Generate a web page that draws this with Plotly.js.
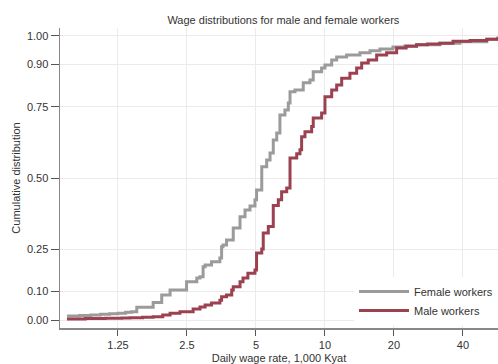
<!DOCTYPE html>
<html>
<head>
<meta charset="utf-8">
<script src="https://cdn.plot.ly/plotly-3.0.1.min.js"></script>
<style>html,body{margin:0;padding:0;background:#fff;}#chart{width:498px;height:364px;}</style>
</head>
<body>
<div id="chart"></div>
<script>
// Female workers: daily wage (1,000 Kyat) and cumulative share
var femaleWage = [0.749, 0.85, 0.95, 1.05, 1.15, 1.25, 1.35, 1.435, 1.51, 1.78, 1.94, 2.11, 2.49, 2.76, 2.85, 2.94, 3.00, 3.20, 3.48, 3.54, 3.59, 3.72, 3.98, 4.26, 4.48, 4.71, 4.95, 5.03, 5.30, 5.57, 5.76, 5.95, 6.16, 6.36, 6.69, 6.92, 7.04, 7.40, 8.04, 8.60, 8.89, 9.67, 10.0, 10.70, 11.25, 12.43, 14.21, 15.72, 17.38, 19.80, 22.3, 25.1, 31.7, 38.8, 50.8, 56.9, 60];
var femaleCdf  = [0.014, 0.016, 0.018, 0.020, 0.022, 0.024, 0.027, 0.029, 0.045, 0.062, 0.088, 0.106, 0.135, 0.148, 0.152, 0.188, 0.194, 0.205, 0.218, 0.258, 0.264, 0.282, 0.324, 0.364, 0.387, 0.401, 0.423, 0.458, 0.540, 0.563, 0.588, 0.634, 0.658, 0.722, 0.739, 0.764, 0.804, 0.810, 0.835, 0.845, 0.874, 0.887, 0.898, 0.915, 0.926, 0.933, 0.941, 0.948, 0.954, 0.961, 0.965, 0.969, 0.974, 0.980, 0.988, 0.992, 0.993];

// Male workers
var maleWage = [0.749, 0.9, 1.1, 1.3, 1.41, 1.6, 1.78, 1.96, 2.11, 2.33, 2.66, 2.85, 3.00, 3.20, 3.48, 3.54, 3.72, 3.92, 3.98, 4.26, 4.39, 4.61, 4.95, 5.03, 5.30, 5.38, 5.66, 5.95, 6.26, 6.47, 6.81, 7.04, 7.53, 7.78, 7.91, 8.18, 8.75, 8.89, 9.67, 10.0, 10.70, 11.25, 11.83, 12.85, 13.75, 14.46, 15.45, 16.81, 18.58, 20.55, 22.6, 25.1, 28.0, 31.7, 36.2, 43.0, 50.8, 56.9, 60];
var maleCdf  = [0.004, 0.005, 0.006, 0.007, 0.008, 0.010, 0.012, 0.018, 0.024, 0.029, 0.039, 0.046, 0.053, 0.060, 0.070, 0.082, 0.088, 0.106, 0.117, 0.135, 0.148, 0.165, 0.176, 0.236, 0.250, 0.306, 0.329, 0.403, 0.423, 0.452, 0.465, 0.570, 0.585, 0.599, 0.645, 0.663, 0.681, 0.711, 0.729, 0.786, 0.810, 0.827, 0.851, 0.869, 0.887, 0.905, 0.915, 0.933, 0.941, 0.958, 0.964, 0.969, 0.972, 0.974, 0.981, 0.984, 0.988, 0.992, 0.993];

var xTicks = [1.25, 2.5, 5, 10, 20, 40];
var xTickText = ["1.25", "2.5", "5", "10", "20", "40"];
var yTicks = [0, 0.10, 0.25, 0.50, 0.75, 0.90, 1.00];
var yTickText = ["0.00", "0.10", "0.25", "0.50", "0.75", "0.90", "1.00"];

var FONT = "Liberation Sans, Arial, Helvetica, sans-serif";

var traces = [
  {x: femaleWage, y: femaleCdf, type: "scatter", mode: "lines", name: "Female workers",
   line: {shape: "hv", color: "#9b9b9b", width: 3}},
  {x: maleWage, y: maleCdf, type: "scatter", mode: "lines", name: "Male workers",
   line: {shape: "hv", color: "#9c4150", width: 3}}
];

var layout = {
  width: 498, height: 364,
  margin: {l: 60, r: 0, t: 28, b: 36},
  paper_bgcolor: "#fff", plot_bgcolor: "#fff",
  font: {family: FONT, size: 11, color: "#333"},
  title: {text: "Wage distributions for male and female workers", font: {size: 11, color: "#333"},
          xref: "container", x: 0.569, xanchor: "center", yref: "container", y: 0.945, yanchor: "middle"},
  xaxis: {type: "log", range: [-0.156, 1.755], tickvals: xTicks, ticktext: xTickText,
          ticks: "outside", ticklen: 6, tickcolor: "#555", tickwidth: 1,
          showline: true, linecolor: "#888", linewidth: 1.5,
          showgrid: true, gridcolor: "#ebebeb", gridwidth: 1, zeroline: false,
          tickfont: {size: 11, color: "#333"},
          title: {text: "Daily wage rate, 1,000 Kyat", font: {size: 11, color: "#333"}, standoff: 5}},
  yaxis: {range: [-0.028, 1.028], tickvals: yTicks, ticktext: yTickText,
          ticks: "outside", ticklen: 8, tickcolor: "#555", tickwidth: 1,
          showline: true, linecolor: "#888", linewidth: 1.5,
          showgrid: true, gridcolor: "#ebebeb", gridwidth: 1, zeroline: false,
          tickfont: {size: 11, color: "#333"},
          title: {text: "Cumulative distribution", font: {size: 11, color: "#333"}, standoff: 4}},
  legend: {x: 1, xanchor: "right", y: 0.01, yanchor: "bottom", bgcolor: "#fff",
           font: {size: 11, color: "#333"}, itemwidth: 50, borderwidth: 0},
  showlegend: true
};

Plotly.newPlot("chart", traces, layout, {displayModeBar: false, staticPlot: true});
</script>
</body>
</html>
